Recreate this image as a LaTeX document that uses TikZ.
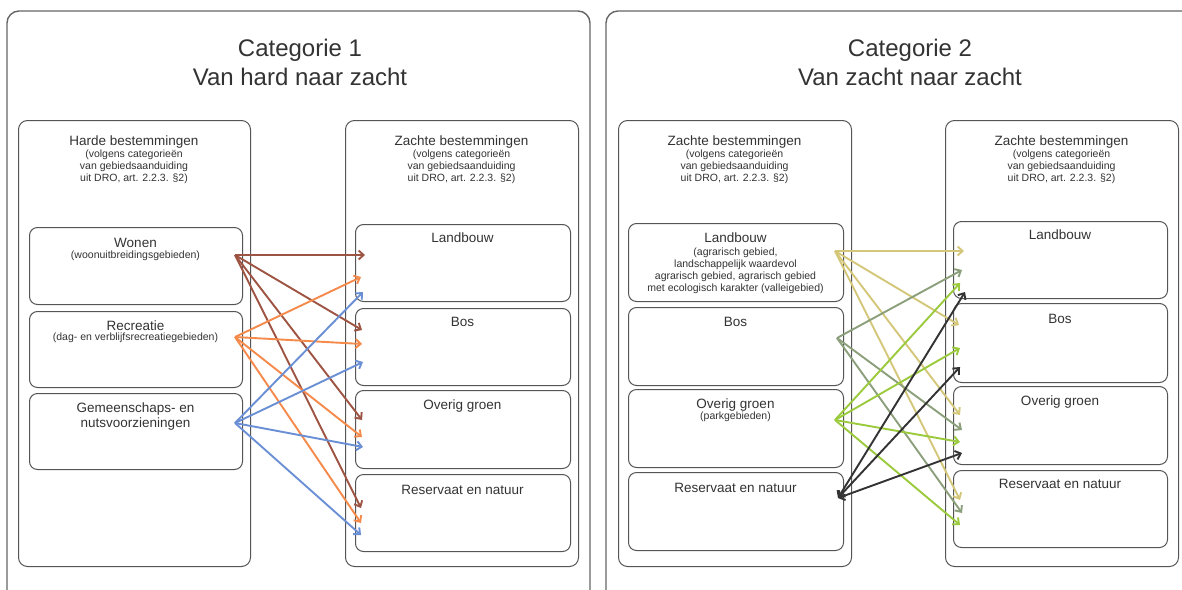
\documentclass[tikz,border=0pt]{standalone}
\usepackage{fontspec}
\setmainfont{Liberation Sans}
\usetikzlibrary{arrows.meta,calc}
\definecolor{cbrown}{HTML}{9E5443}
\definecolor{corange}{HTML}{F58A4B}
\definecolor{cblue}{HTML}{6A8FD4}
\definecolor{ckhaki}{HTML}{D4C779}
\definecolor{cgrey}{HTML}{8B9F7B}
\definecolor{cgreen}{HTML}{9BCB3C}
\definecolor{cblack}{HTML}{333333}
\definecolor{edge}{HTML}{555555}
\definecolor{txt}{HTML}{333333}
\begin{document}
\begin{tikzpicture}[x=1pt,y=-1pt,
  panel/.style={draw=edge!90, line width=1.4pt, rounded corners=12pt},
  column/.style={draw=edge, line width=1pt, rounded corners=9pt, anchor=north west, inner sep=0pt},
  box/.style={draw=edge, line width=1pt, rounded corners=8pt, anchor=north west, inner sep=0pt},
  ttl/.style={font=\fontsize{24}{29}\selectfont, align=center, text=txt, inner sep=0pt},
  head/.style={font=\fontsize{13.5}{15}\selectfont, align=center, text=txt, inner sep=0pt},
  small/.style={font=\fontsize{10.5}{12}\selectfont, align=center, text=txt, inner sep=0pt},
  conn/.style={line width=1.9pt, -{Straight Barb[length=5pt,width=9pt]}},
  bconn/.style={line width=1.9pt, {Straight Barb[length=5pt,width=9pt]}-{Straight Barb[length=5pt,width=9pt]}},
]
\path[use as bounding box, clip] (0,0) rectangle (1182,589);
\fill[white] (0,0) rectangle (1182,589);

% ---------- outer panels ----------
\draw[panel] (7,640) -- (7,11) -- (590,11) -- (590,640);
\draw[panel] (606,640) -- (606,11) -- (1220,11) -- (1220,640);

\node[ttl] (t1) at (300,62.5) {Categorie 1\\Van hard naar zacht};
\node[ttl] (t2) at (910,62.5) {Categorie 2\\Van zacht naar zacht};

% ---------- Category 1 ----------
\node[column, minimum width=232pt, minimum height=446pt] (c1l) at (18,120) {};
\node[column, minimum width=233pt, minimum height=446pt] (c1r) at (345,120) {};
\node[head] (c1lh) at (134,142) {Harde bestemmingen};
\node[small] (c1ls) at (134,167) {(volgens categorieën\\van gebiedsaanduiding\\uit DRO, art. 2.2.3. §2)};
\node[head] (c1rh) at (461.5,142) {Zachte bestemmingen};
\node[small] (c1rs) at (461.5,167) {(volgens categorieën\\van gebiedsaanduiding\\uit DRO, art. 2.2.3. §2)};

\node[box, minimum width=213pt, minimum height=77pt] (won) at (29,227) {};
\node[box, minimum width=213pt, minimum height=76pt] (rec) at (29,311) {};
\node[box, minimum width=213pt, minimum height=76pt] (gem) at (29,393) {};
\node[head] (wonT) at (135.5,243) {Wonen};
\node[small] (wonS) at (135.5,256) {(woonuitbreidingsgebieden)};
\node[head] (recT) at (135.5,326) {Recreatie};
\node[small] (recS) at (135.5,338) {(dag- en verblijfsrecreatiegebieden)};
\node[head] (gemT) at (135.5,416.5) {Gemeenschaps- en\\nutsvoorzieningen};

\node[box, minimum width=215pt, minimum height=77pt] (lb1) at (355,224) {};
\node[box, minimum width=215pt, minimum height=77pt] (bos1) at (355,308) {};
\node[box, minimum width=215pt, minimum height=78pt] (og1) at (355,390) {};
\node[box, minimum width=215pt, minimum height=77pt] (res1) at (355,474) {};
\node[head] (lb1T) at (462.5,238) {Landbouw};
\node[head] (bos1T) at (462.5,322) {Bos};
\node[head] (og1T) at (462.5,406) {Overig groen};
\node[head] (res1T) at (462.5,490) {Reservaat en natuur};

% connectors category 1
\coordinate (sW) at (235,255);
\coordinate (sR) at (235,337);
\coordinate (sG) at (235,423);
\coordinate (eW1) at (365,255); \coordinate (eW2) at (362,330);
\coordinate (eW3) at (362,420); \coordinate (eW4) at (361,508);
\coordinate (eR1) at (361,277); \coordinate (eR2) at (362,344);
\coordinate (eR3) at (362,437); \coordinate (eR4) at (361,523);
\coordinate (eG1) at (363,292); \coordinate (eG2) at (363,362);
\coordinate (eG3) at (363,447); \coordinate (eG4) at (361,535);
\foreach \i in {1,...,4} \draw[conn, cbrown] (sW) -- (eW\i);
\foreach \i in {1,...,4} \draw[conn, corange] (sR) -- (eR\i);
\foreach \i in {1,...,4} \draw[conn, cblue] (sG) -- (eG\i);

% ---------- Category 2 ----------
\node[column, minimum width=233pt, minimum height=446pt] (c2l) at (618,120) {};
\node[column, minimum width=233pt, minimum height=446pt] (c2r) at (945,120) {};
\node[head] (c2lh) at (734.5,142) {Zachte bestemmingen};
\node[small] (c2ls) at (734.5,167) {(volgens categorieën\\van gebiedsaanduiding\\uit DRO, art. 2.2.3. §2)};
\node[head] (c2rh) at (1061.5,142) {Zachte bestemmingen};
\node[small] (c2rs) at (1061.5,167) {(volgens categorieën\\van gebiedsaanduiding\\uit DRO, art. 2.2.3. §2)};

\node[box, minimum width=215pt, minimum height=78pt] (lb2) at (628,223) {};
\node[box, minimum width=215pt, minimum height=78pt] (bos2) at (628,307) {};
\node[box, minimum width=215pt, minimum height=78pt] (og2) at (628,389) {};
\node[box, minimum width=215pt, minimum height=78pt] (res2) at (628,472) {};
\node[head] (lb2T) at (735.5,238) {Landbouw};
\node[small] (lb2S) at (735.5,271) {(agrarisch gebied,\\landschappelijk waardevol\\agrarisch gebied, agrarisch gebied\\met ecologisch karakter (valleigebied)};
\node[head] (bos2T) at (735.5,322) {Bos};
\node[head] (og2T) at (735.5,405) {Overig groen};
\node[small] (og2S) at (735.5,417) {(parkgebieden)};
\node[head] (res2T) at (735.5,488) {Reservaat en natuur};

\node[box, minimum width=214pt, minimum height=77pt] (lb3) at (953,221) {};
\node[box, minimum width=214pt, minimum height=79pt] (bos3) at (953,303) {};
\node[box, minimum width=214pt, minimum height=78pt] (og3) at (953,386) {};
\node[box, minimum width=214pt, minimum height=77pt] (res3) at (953,470) {};
\node[head] (lb3T) at (1060,235) {Landbouw};
\node[head] (bos3T) at (1060,319) {Bos};
\node[head] (og3T) at (1060,402) {Overig groen};
\node[head] (res3T) at (1060,484) {Reservaat en natuur};

% connectors category 2
\coordinate (sL) at (835,251);
\coordinate (sB) at (837,338);
\coordinate (sO) at (835,420);
\coordinate (sX) at (838,498);
\coordinate (eL1) at (964,251); \coordinate (eL2) at (959,325);
\coordinate (eL3) at (960,415); \coordinate (eL4) at (960,500);
\coordinate (eB1) at (962,270); \coordinate (eB2) at (962,430);
\coordinate (eB3) at (962,513);
\coordinate (eO1) at (960,283); \coordinate (eO2) at (960,348);
\coordinate (eO3) at (960,442); \coordinate (eO4) at (960,525);
\coordinate (eX1) at (965,292); \coordinate (eX2) at (960,367);
\coordinate (eX3) at (962,453);
\foreach \i in {1,...,4} \draw[conn, ckhaki] (sL) -- (eL\i);
\foreach \i in {1,...,3} \draw[conn, cgrey] (sB) -- (eB\i);
\foreach \i in {1,...,4} \draw[conn, cgreen] (sO) -- (eO\i);
\foreach \i in {1,...,3} \draw[bconn, cblack] (sX) -- (eX\i);
\end{tikzpicture}
\end{document}
